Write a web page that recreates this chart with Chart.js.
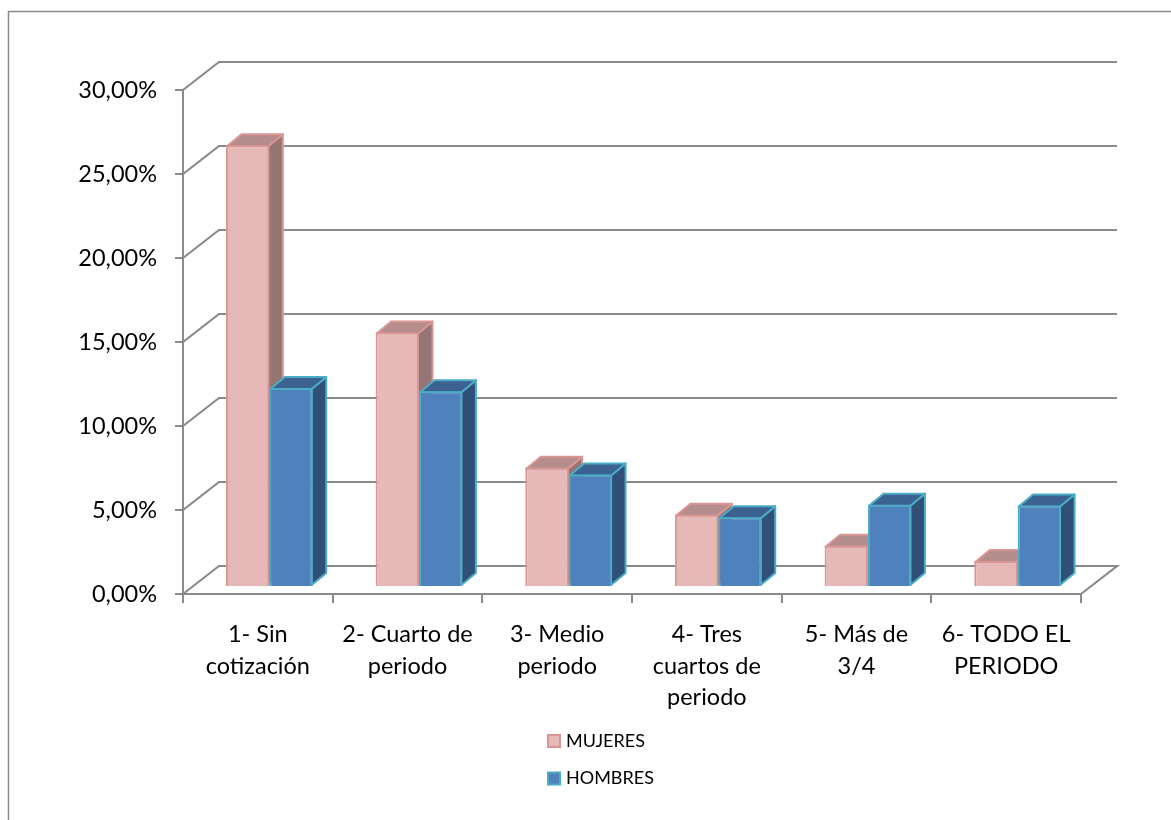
<!DOCTYPE html>
<html>
<head>
<meta charset="utf-8">
<title>Cotización por periodo</title>
<script src="https://cdn.jsdelivr.net/npm/chart.js@4"></script>
<style>
  html, body { margin: 0; padding: 0; background: #fff; overflow: hidden; }
  canvas { display: block; }
</style>
</head>
<body>
<canvas id="chart" width="1171" height="820"></canvas>
<script>
const categories = [
  ['1- Sin', 'cotización'],
  ['2- Cuarto de', 'periodo'],
  ['3- Medio', 'periodo'],
  ['4- Tres', 'cuartos de', 'periodo'],
  ['5- Más de', '3/4'],
  ['6- TODO EL', 'PERIODO']
];
const mujeres = [26.3, 15.15, 7.1, 4.3, 2.45, 1.55];
const hombres = [11.85, 11.65, 6.7, 4.15, 4.9, 4.85];

const GREY = '#8a8a8a';
const DEPTH_WALL = { x: 36, y: -28 };
const DEPTH_BAR = { x: 14.5, y: -12 };
const BAR_SHIFT = { x: 11.5, y: -7 };
const faces = [
  { side: '#957675', top: '#b48d8c' },
  { side: '#305078', top: '#3b6290' }
];

function poly(ctx, pts, fill, stroke) {
  ctx.beginPath();
  pts.forEach((p, i) => i ? ctx.lineTo(p[0], p[1]) : ctx.moveTo(p[0], p[1]));
  ctx.closePath();
  ctx.fillStyle = fill;
  ctx.fill();
  ctx.strokeStyle = stroke;
  ctx.lineWidth = 2;
  ctx.lineJoin = 'round';
  ctx.stroke();
}

const frame3d = {
  id: 'frame3d',
  beforeDraw(chart) {
    const ctx = chart.ctx;
    ctx.save();
    ctx.strokeStyle = GREY;
    ctx.lineWidth = 1.5;
    ctx.beginPath();
    ctx.moveTo(8.5, 820);
    ctx.lineTo(8.5, 11.5);
    ctx.lineTo(1171, 11.5);
    ctx.stroke();
    ctx.restore();
  },
  // walls and floor behind the bars
  beforeDatasetsDraw(chart) {
    const ctx = chart.ctx;
    const { left, right } = chart.chartArea;
    const y = chart.scales.y;
    ctx.save();
    ctx.strokeStyle = GREY;
    ctx.lineWidth = 2.2;
    y.ticks.forEach(t => {
      const py = y.getPixelForValue(t.value);
      ctx.beginPath();
      ctx.moveTo(left, py);
      ctx.lineTo(left + DEPTH_WALL.x, py + DEPTH_WALL.y);
      ctx.lineTo(right + DEPTH_WALL.x, py + DEPTH_WALL.y);
      if (t.value === 0) ctx.lineTo(right, py);
      ctx.stroke();
    });
    ctx.restore();
  },
  beforeDatasetDraw() {
    return false;
  },
  // bars left to right so each one hides the side of the previous one
  afterDatasetsDraw(chart) {
    const ctx = chart.ctx;
    chart.data.datasets.forEach((ds, i) => {
      const meta = chart.getDatasetMeta(i);
      ctx.save();
      ctx.translate(BAR_SHIFT.x, BAR_SHIFT.y);
      meta.data.forEach(bar => {
        const { x, y, base, width } = bar.getProps(['x', 'y', 'base', 'width'], true);
        const l = x - width / 2, r = x + width / 2;
        const dx = DEPTH_BAR.x, dy = DEPTH_BAR.y;
        poly(ctx, [[r - 1, y + 1], [r + dx - 1, y + dy + 1], [r + dx - 1, base + dy - 1], [r - 1, base - 1]], faces[i].side, ds.borderColor);
        poly(ctx, [[l + 1, y + 1], [l + dx + 1, y + dy + 1], [r + dx - 1, y + dy + 1], [r - 1, y + 1]], faces[i].top, ds.borderColor);
      });
      meta.controller.draw();
      ctx.restore();
    });
  },
  // stacked legend under the plot
  afterDraw(chart) {
    const ctx = chart.ctx;
    ctx.save();
    ctx.font = '18px Lato';
    ctx.textBaseline = 'middle';
    chart.data.datasets.forEach((ds, i) => {
      const top = 735 + i * 37.5;
      ctx.fillStyle = ds.backgroundColor;
      ctx.strokeStyle = ds.borderColor;
      ctx.lineWidth = 2;
      ctx.fillRect(548, top, 12, 12);
      ctx.strokeRect(548, top, 12, 12);
      ctx.fillStyle = '#000';
      ctx.fillText(ds.label, 566, top + 6);
    });
    ctx.restore();
  }
};

new Chart(document.getElementById('chart'), {
  type: 'bar',
  data: {
    labels: categories,
    datasets: [
      { label: 'MUJERES', data: mujeres, backgroundColor: '#e6b9b8', borderColor: '#d99694', borderWidth: 2 },
      { label: 'HOMBRES', data: hombres, backgroundColor: '#4f81bd', borderColor: '#4bacc6', borderWidth: 2 }
    ]
  },
  plugins: [frame3d],
  options: {
    responsive: false,
    animation: false,
    devicePixelRatio: 1,
    layout: { padding: { top: 90, right: 90, left: 0, bottom: 0 } },
    datasets: { bar: { categoryPercentage: 0.58, barPercentage: 1 } },
    plugins: {
      tooltip: { enabled: false },
      legend: { display: false }
    },
    scales: {
      x: {
        afterFit: s => { s.height = 226; },
        grid: { drawOnChartArea: false, color: GREY, lineWidth: 2, tickLength: 9 },
        border: { color: GREY, width: 2 },
        ticks: {
          maxRotation: 0,
          autoSkip: false,
          padding: 16,
          color: '#000',
          font: { family: 'Lato', size: 23.5, lineHeight: 1.34 }
        }
      },
      y: {
        min: 0,
        max: 30,
        afterFit: s => { s.width = 183; },
        grid: { drawOnChartArea: false, color: GREY, lineWidth: 2, tickLength: 8 },
        border: { color: GREY, width: 2 },
        ticks: {
          stepSize: 5,
          padding: 18,
          color: '#000',
          font: { family: 'Lato', size: 23.5 },
          callback: v => v.toFixed(2).replace('.', ',') + '%'
        }
      }
    }
  }
});
</script>
</body>
</html>
